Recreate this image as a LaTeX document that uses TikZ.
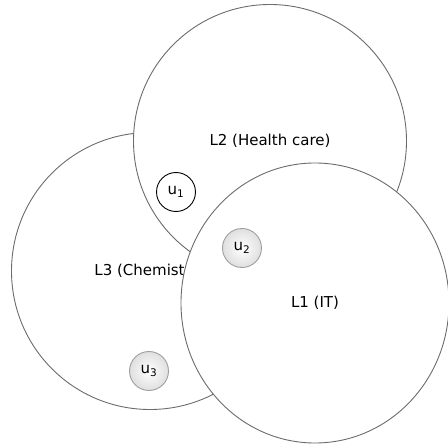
\documentclass[tikz,border=0pt]{standalone}
\usepackage{fontspec}
\setmainfont{DejaVu Sans}
\usepackage{tikz}
\usetikzlibrary{shapes.geometric}

\tikzset{
  field/.style={circle, draw=gray!85!black, line width=0.9pt, fill=white, minimum size=#1, inner sep=0pt, font=\fontsize{15}{18}\selectfont},
  ovalfield/.style={field=0pt, ellipse},
  userbase/.style={circle, line width=0.9pt, minimum size=39pt, inner sep=0pt, font=\fontsize{15}{18}\selectfont},
  user/.style={userbase, draw=gray!75, shading=radial, inner color=white, outer color=gray!25},
  userplain/.style={userbase, draw=black, fill=white}
}

\begin{document}
\begin{tikzpicture}[x=1pt, y=-1pt]
  \useasboundingbox (0,0) rectangle (448,444);
  % the three fields
  \node[field=277pt] (L3) at (150,271) {L3 (Chemistry)};
  \node[field=273pt] (L2) at (270,141) {L2 (Health care)};
  \node[ovalfield, minimum width=268pt, minimum height=280pt] (L1) at (315,303) {L1 (IT)};
  % users
  \node[userplain] (u1) at (176,192) {u\textsubscript{1}};
  \node[user] (u2) at (242,248) {u\textsubscript{2}};
  \node[user] (u3) at (149,371) {u\textsubscript{3}};
\end{tikzpicture}
\end{document}
